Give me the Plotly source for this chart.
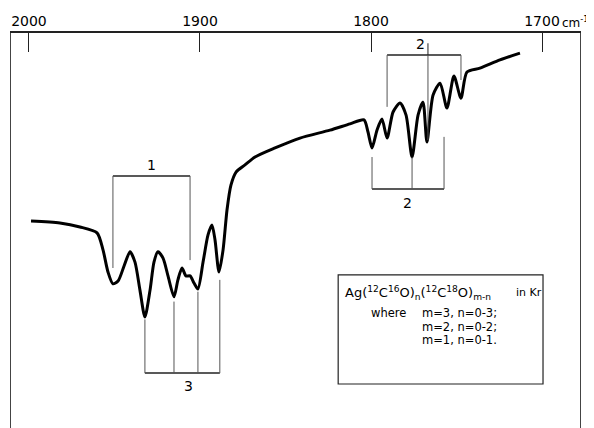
import plotly.graph_objects as go

# Spectrum (wavenumber in cm-1, transmittance in arbitrary units)
wavenumber = [1998.8, 1981.9, 1970.2, 1960.2, 1956.7, 1953.8, 1950.9, 1947.9, 1944.4, 1940.9,
              1938.0, 1935.1, 1932.2, 1929.2, 1926.9, 1924.6, 1921.6, 1918.7, 1915.2, 1912.9,
              1910.5, 1908.2, 1905.8, 1903.5, 1901.2, 1898.2, 1895.3, 1893.0, 1891.2, 1888.9,
              1886.5, 1884.2, 1881.9, 1878.9, 1873.7, 1867.8, 1856.1, 1841.5, 1824.0, 1812.3,
              1804.1, 1801.8, 1799.4, 1796.5, 1793.6, 1790.6, 1787.1, 1783.0, 1779.5, 1776.0,
              1772.5, 1769.6, 1767.3, 1763.7, 1759.6, 1755.6, 1751.5, 1747.4, 1743.9, 1736.3,
              1724.6, 1712.9]
transmittance = [52.4, 51.9, 50.9, 49.4, 45.1, 39.5, 36.5, 37.2, 41.0, 44.6,
                 42.0, 34.9, 28.1, 34.9, 42.0, 44.6, 43.0, 38.5, 33.2, 37.5,
                 40.5, 38.5, 38.5, 36.7, 35.2, 42.0, 48.9, 51.4, 47.6, 39.5,
                 45.1, 55.2, 61.5, 64.8, 66.6, 68.6, 70.9, 73.4, 75.4, 77.0,
                 78.0, 75.0, 70.9, 75.4, 78.2, 73.4, 80.0, 82.3, 79.2, 68.6,
                 79.2, 82.5, 72.4, 84.3, 87.3, 81.0, 89.1, 83.5, 90.1, 91.1,
                 93.2, 94.9]

tick_values = [2000, 1900, 1800, 1700]
tick_labels = ["2000", "1900", "1800", "1700"]

# Bracket groups: peak positions, leg ends, bar level
group1_peaks = [1950.9, 1905.8]
group1_legs = [40.5, 42.5]
group1_bar = 63.8
group3_peaks = [1932.2, 1915.2, 1901.2, 1888.4]
group3_legs = [27.5, 32.0, 34.5, 37.5]
group3_bar = 13.9
group2_peaks = [1799.4, 1776.0, 1757.3]
group2_legs = [68.6, 68.6, 73.7]
group2_bar = 60.5
group21_peaks = [1790.6, 1766.7, 1747.4]
group21_legs = [81.3, 72.9, 88.1]
group21_bar = 94.4

fig = go.Figure()
fig.add_trace(go.Scatter(x=wavenumber, y=transmittance, mode="lines",
                         line=dict(color="black", width=3, shape="spline", smoothing=0.7),
                         hoverinfo="skip", showlegend=False))

shapes = []
def bracket(peaks, legs, bar):
    shapes.append(dict(type="line", xref="x", yref="y", x0=peaks[0], x1=peaks[-1],
                       y0=bar, y1=bar, line=dict(color="#222", width=1.5)))
    for p, l in zip(peaks, legs):
        shapes.append(dict(type="line", xref="x", yref="y", x0=p, x1=p, y0=bar, y1=l,
                           line=dict(color="#555", width=1)))

bracket(group1_peaks, group1_legs, group1_bar)
bracket(group3_peaks, group3_legs, group3_bar)
bracket(group2_peaks, group2_legs, group2_bar)
bracket(group21_peaks, group21_legs, group21_bar)
# small extension of middle leg above the top bar
shapes.append(dict(type="line", xref="x", yref="y", x0=group21_peaks[1], x1=group21_peaks[1],
                   y0=group21_bar, y1=group21_bar + 3.0, line=dict(color="#222", width=1)))
# legend box
shapes.append(dict(type="rect", xref="paper", yref="paper", x0=0.575, x1=0.935, y0=0.129, y1=0.400,
                   line=dict(color="#222", width=1.2)))

font = "DejaVu Sans"
ann = []
def label(txt, x, y, size=14):
    ann.append(dict(text=txt, x=x, y=y, xref="x", yref="y", showarrow=False,
                    font=dict(size=size, color="black", family=font)))

label("1", 1928.4, 66.6)
label("3", 1907.0, 10.6)
label("2", 1778.4, 57.0)
label("2", 1770.8, 97.2)

def ptext(txt, x, y, size=12, anchor="left"):
    ann.append(dict(text=txt, x=x, y=y, xref="paper", yref="paper", showarrow=False,
                    xanchor=anchor, yanchor="middle",
                    font=dict(size=size, color="black", family=font)))

ptext("Ag(<sup>12</sup>C<sup>16</sup>O)<sub>n</sub>(<sup>12</sup>C<sup>18</sup>O)<sub>m-n</sub>",
      0.583, 0.355, size=13)
ptext("in Kr", 0.884, 0.355, size=11)
ptext("where", 0.629, 0.305, size=11.5)
ptext("m=3, n=0-3;", 0.719, 0.305, size=11.5)
ptext("m=2, n=0-2;", 0.719, 0.270, size=11.5)
ptext("m=1, n=0-1.", 0.719, 0.238, size=11.5)
ann.append(dict(text="cm<sup>-1</sup>", x=0.964, y=1.0, xref="paper", yref="paper",
                showarrow=False, xanchor="left", yanchor="bottom", yshift=1,
                font=dict(size=12, color="black", family=font)))

# page body has an 8px margin; the figure margins compensate for it
fig.update_layout(
    width=594, height=428,
    margin=dict(l=3, r=22, t=25, b=0, autoexpand=False),
    paper_bgcolor="white", plot_bgcolor="white",
    shapes=shapes, annotations=ann,
    xaxis=dict(range=[2010.5, 1677.8], side="top", tickvals=tick_values, ticktext=tick_labels,
               ticks="inside", ticklen=19, tickwidth=1, tickcolor="#222", automargin=False,
               showline=True, linecolor="#222", linewidth=1.5, showgrid=False, zeroline=False,
               tickfont=dict(size=14, color="black", family=font)),
    yaxis=dict(range=[-2.03, 100], showline=True, mirror=True, linecolor="#444", linewidth=1,
               automargin=False,
               showticklabels=False, ticks="", showgrid=False, zeroline=False),
)
fig.write_html("out.html")
